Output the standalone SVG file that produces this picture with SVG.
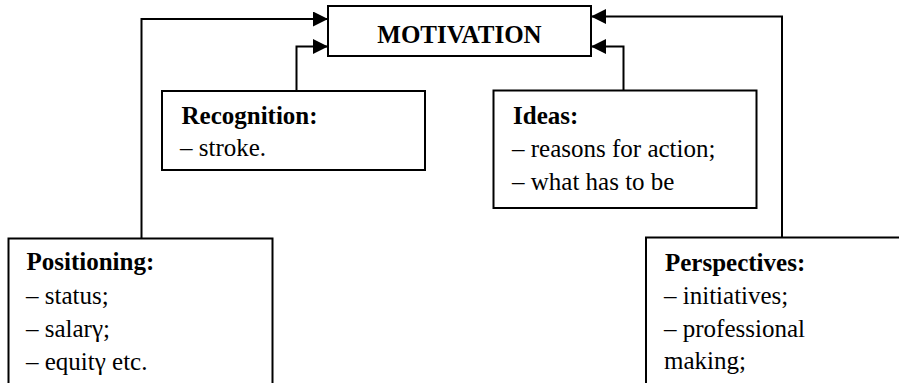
<svg xmlns="http://www.w3.org/2000/svg" width="899" height="383" viewBox="0 0 899 383">
<style>
.box{fill:#fff;stroke:#000;stroke-width:2}
.ln{fill:none;stroke:#000;stroke-width:2}
text{font-family:'Liberation Serif','Times New Roman',serif;font-size:25px;fill:#000}
.b{font-weight:bold}
</style>
<defs>
<marker id="arr" markerUnits="userSpaceOnUse" markerWidth="16" markerHeight="16" refX="15" refY="7.5" orient="auto">
<path d="M0,0 L15,7.5 L0,15 z" fill="#000"/>
</marker>
</defs>
<g id="connectors">
<polyline class="ln" points="141.5,238 141.5,19 328,19" marker-end="url(#arr)"/>
<polyline class="ln" points="296.5,91 296.5,46.5 328,46.5" marker-end="url(#arr)"/>
<polyline class="ln" points="623.5,90 623.5,46.5 591,46.5" marker-end="url(#arr)"/>
<polyline class="ln" points="782,237 782,16.5 591,16.5" marker-end="url(#arr)"/>
</g>
<g id="motivation">
<rect class="box" x="328" y="6" width="263" height="50"/>
<text class="b" x="459.5" y="42.5" text-anchor="middle">MOTIVATION</text>
</g>
<g id="recognition">
<rect class="box" x="162" y="91" width="263" height="79"/>
<text class="b" x="181.5" y="124">Recognition:</text>
<text x="180" y="156">– stroke.</text>
</g>
<g id="ideas">
<rect class="box" x="493.5" y="90.5" width="263" height="117.5"/>
<text class="b" x="513" y="123.5">Ideas:</text>
<text x="512" y="156.5">– reasons for action;</text>
<text x="512" y="189.5">– what has to be</text>
</g>
<g id="positioning">
<rect class="box" x="8.5" y="238.5" width="264" height="160"/>
<text class="b" x="26.5" y="270">Positioning:</text>
<text x="26" y="304">– status;</text>
<text x="26" y="337">– salarγ;</text>
<text x="26" y="370">– equitγ etc.</text>
</g>
<g id="perspectives">
<rect class="box" x="646" y="237.5" width="270" height="160"/>
<text class="b" x="665" y="271">Perspectives:</text>
<text x="664" y="304">– initiatives;</text>
<text x="664" y="337">– professional</text>
<text x="664" y="369">making;</text>
</g>
</svg>
